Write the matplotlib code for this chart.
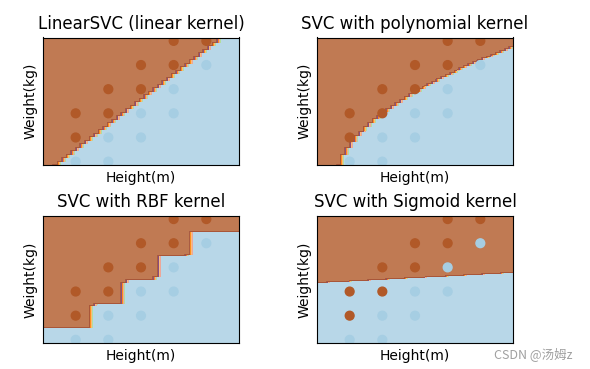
import numpy as np
import matplotlib
matplotlib.use('Agg')
import matplotlib.pyplot as plt

# ---- data (height in m, weight in kg, label: 1 = fat, 0 = not fat) ----
height = [1.5, 1.6,
          1.5, 1.6, 1.7,
          1.5, 1.6, 1.7, 1.8,
          1.6, 1.7, 1.8,
          1.7, 1.8, 1.9,
          1.8, 1.9]
weight = [40, 40,
          50, 50, 50,
          60, 60, 60, 60,
          70, 70, 70,
          80, 80, 80,
          90, 90]
label = [0, 0,
         1, 0, 0,
         1, 1, 0, 0,
         1, 1, 0,
         1, 1, 0,
         1, 1]

titles = ['LinearSVC (linear kernel)',
          'SVC with polynomial kernel',
          'SVC with RBF kernel',
          'SVC with Sigmoid kernel']

# ---- classifier parameters (feature-scaled units) ----
height_unit = 0.1
weight_unit = 10.0
linear_coef = [-1.04, 1.0]
linear_intercept = -0.47
poly_coef = [-0.263, 0.305, 0.169]      # u_boundary = c0 + c1*v + c2*v^2
rbf_gamma = 9.0
sigmoid_coef = [-0.07, 1.0]
sigmoid_intercept = -2.437

X = np.column_stack([height, weight]).astype(float)
y = np.array(label)

x_min, x_max = X[:, 0].min() - 0.1, X[:, 0].max() + 0.1
y_min, y_max = X[:, 1].min() - 1.4, X[:, 1].max() + 1.4
xx, yy = np.meshgrid(np.linspace(x_min, x_max, 44),
                     np.linspace(y_min, y_max, 2600))

U = (xx - X[:, 0].min()) / height_unit
V = (yy - X[:, 1].min()) / weight_unit
Pu = (X[:, 0] - X[:, 0].min()) / height_unit
Pv = (X[:, 1] - X[:, 1].min()) / weight_unit
sgn = 2 * y - 1

f_lin = linear_coef[0] * U + linear_coef[1] * V + linear_intercept
f_poly = (poly_coef[0] + poly_coef[1] * V + poly_coef[2] * V ** 2) - U
D2 = (U[..., None] - Pu) ** 2 + (V[..., None] - Pv) ** 2
f_rbf = (np.exp(-rbf_gamma * D2) * sgn).sum(axis=-1)
f_sig = sigmoid_coef[0] * U + sigmoid_coef[1] * V + sigmoid_intercept

Zs = [(f > 0).astype(int) for f in (f_lin, f_poly, f_rbf, f_sig)]

fig = plt.figure(figsize=(5.9, 3.69), dpi=100)
W, H = 590.0, 369.0
positions = [(43, 37.5), (317, 37.5), (43, 215.7), (317, 215.7)]
aw, ah = 196.0, 127.5

for (lx, ty), Z, title in zip(positions, Zs, titles):
    ax = fig.add_axes([lx / W, 1 - (ty + ah) / H, aw / W, ah / H])
    ax.contourf(xx, yy, Z, cmap=plt.cm.Paired, alpha=0.8)
    ax.scatter(X[:, 0], X[:, 1], c=y, cmap=plt.cm.Paired, s=40)
    ax.set_xlabel('Height(m)')
    ax.set_ylabel('Weight(kg)')
    ax.set_xlim(xx.min(), xx.max())
    ax.set_ylim(yy.min(), yy.max())
    ax.set_xticks(())
    ax.set_yticks(())
    ax.set_title(title)

fig.text(573 / W, 1 - 354 / H, 'CSDN @汤姆z', ha='right', va='center',
         fontsize=9, color='#a0a0a0',
         family=['Noto Sans CJK SC', 'DejaVu Sans'])

fig.savefig('out.png', dpi=100)
